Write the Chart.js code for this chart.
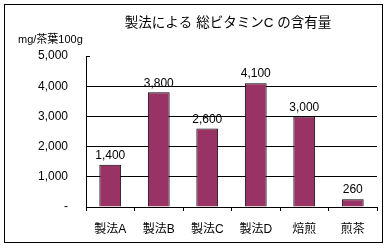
<!DOCTYPE html>
<html><head><meta charset="utf-8">
<script src="https://cdn.jsdelivr.net/npm/chart.js@4/dist/chart.umd.min.js"></script>
<style>html,body{margin:0;padding:0;background:#fff}#wrap{width:387px;height:248px;position:relative}</style>
</head><body><div id="wrap"><canvas id="c" width="387" height="248"></canvas></div>
<script>
const categories = ["製法A","製法B","製法C","製法D","焙煎","煎茶"];
const values = [1400, 3800, 2600, 4100, 3000, 260];
const yTicks = [0, 1000, 2000, 3000, 4000, 5000];
const titleText = "製法による 総ビタミンC の含有量";
const unitText = "mg/茶葉100g";
const FONT = "'Liberation Sans', 'Noto Sans CJK JP', sans-serif";

const fmt = v => v === 0 ? "-" : v.toLocaleString("en-US");

const deco = {
  id: "deco",
  afterDraw(chart) {
    const ctx = chart.ctx;
    ctx.save();
    // frame
    ctx.strokeStyle = "#000"; ctx.lineWidth = 1;
    ctx.strokeRect(4.5, 4.5, 378, 238);
    // title
    ctx.fillStyle = "#000";
    ctx.font = "13.5px " + FONT;
    ctx.textAlign = "center"; ctx.textBaseline = "middle";
    ctx.fillText(titleText, 228, 23);
    // unit
    ctx.font = "11px " + FONT;
    ctx.textAlign = "left";
    ctx.fillText(unitText, 18, 40);
    // data labels
    ctx.font = "12px " + FONT;
    ctx.textAlign = "center"; ctx.textBaseline = "bottom";
    const meta = chart.getDatasetMeta(0);
    meta.data.forEach((bar, i) => {
      ctx.fillText(fmt(values[i]), bar.x, bar.y - 3);
    });
    // small top stub at 5000
    const ys = chart.scales.y;
    const y5 = Math.round(ys.getPixelForValue(5000)) + 0.5;
    ctx.beginPath();
    ctx.moveTo(chart.chartArea.left, y5);
    ctx.lineTo(chart.chartArea.left + 4, y5);
    ctx.stroke();
    ctx.restore();
  }
};

new Chart(document.getElementById("c"), {
  type: "bar",
  data: {
    labels: categories,
    datasets: [{
      data: values,
      backgroundColor: "#993366",
      borderColor: "#000",
      borderWidth: 1,
      categoryPercentage: 1,
      barPercentage: 0.45
    }]
  },
  options: {
    responsive: false,
    animation: false,
    devicePixelRatio: 1,
    layout: { padding: { left: 0, right: 10, top: 56, bottom: 0 } },
    plugins: { legend: { display: false }, tooltip: { enabled: false }, title: { display: false } },
    scales: {
      x: {
        grid: { display: true, offset: true, drawOnChartArea: false, drawTicks: true, tickLength: 4, color: "#000" },
        border: { display: true, color: "#000", width: 1 },
        ticks: { color: "#000", font: { family: FONT, size: 12 }, padding: 11 },
        afterFit(s) { s.height = 41; }
      },
      y: {
        min: 0, max: 5000,
        afterBuildTicks(s) { s.ticks = yTicks.map(v => ({ value: v })); },
        grid: {
          color: ctx => (ctx.tick && (ctx.tick.value === 0 || ctx.tick.value === 5000)) ? "rgba(0,0,0,0)" : "#000",
          drawTicks: false
        },
        border: { display: true, color: "#000", width: 1 },
        ticks: { color: "#000", font: { family: FONT, size: 12 }, padding: 18, callback: v => fmt(v) },
        afterFit(s) { s.width = 86; }
      }
    }
  },
  plugins: [deco]
});
</script></body></html>
